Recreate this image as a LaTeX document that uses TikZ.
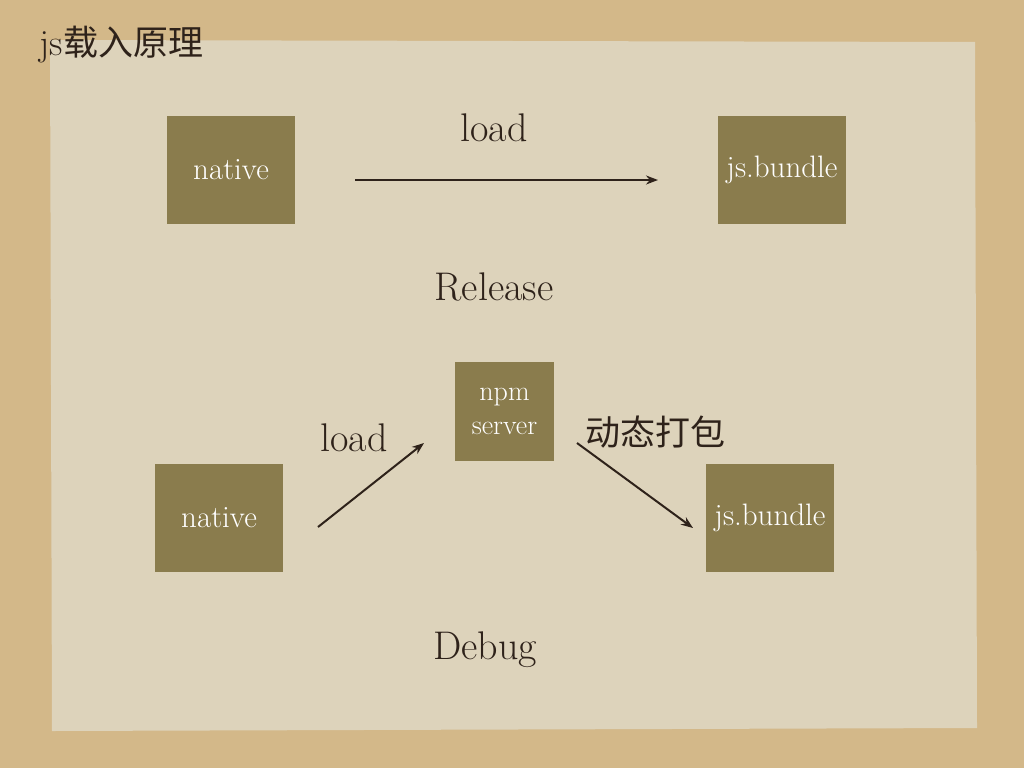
\documentclass[tikz,border=0pt]{standalone}
\usepackage{fontspec}
\newfontfamily\cjk{Noto Sans CJK SC}
\usetikzlibrary{arrows.meta}
\definecolor{outer}{HTML}{D3B889}
\definecolor{paper}{HTML}{DDD3BB}
\definecolor{olive}{HTML}{8A7C4D}
\definecolor{ink}{HTML}{2E221A}
\tikzset{
 box/.style={fill=olive,minimum width=128pt,minimum height=108pt,text=white,font=\fontsize{31}{33}\selectfont,inner sep=0pt,align=center},
 lbl/.style={text=ink,font=\fontsize{40}{42}\selectfont},
 conn/.style={draw=ink,line width=2pt,-{Stealth[length=12pt,width=9pt]}}
}
\begin{document}
\begin{tikzpicture}[x=1pt,y=-1pt]
\fill[outer] (0,0) rectangle (1024,768);
\useasboundingbox (0,0) rectangle (1024,768);
\fill[paper] (50,40) -- (975,42) -- (977,728) -- (52,731) -- cycle;
\node[anchor=west,text=ink,font=\fontsize{37}{39}\selectfont] (title) at (36,45) {js{\cjk\fontsize{35}{37}\selectfont 载入原理}};
\node[box] (n1) at (231,170) {native};
\node[box] (b1) at (782,170) {js.bundle};
\coordinate (a1s) at (355,180); \coordinate (a1e) at (658,180);
\draw[conn] (a1s) -- (a1e);
\node[lbl] (l1) at (494,128) {load};
\node[lbl] (rel) at (494,287) {Release};
\node[box,minimum width=99pt,minimum height=99pt,font=\fontsize{28}{34}\selectfont] (npm) at (504.5,411) {npm\\server};
\node[box] (n2) at (219,518) {native};
\node[box] (b2) at (770,518) {js.bundle};
\coordinate (a2s) at (318,527); \coordinate (a2e) at (424,443);
\draw[conn] (a2s) -- (a2e);
\coordinate (a3s) at (577,443); \coordinate (a3e) at (693,528);
\draw[conn] (a3s) -- (a3e);
\node[lbl] (l2) at (354,438) {load};
\node[text=ink,font=\cjk\fontsize{35}{37}\selectfont] (dt) at (655,432) {动态打包};
\node[lbl] (dbg) at (485,650) {Debug};
\end{tikzpicture}
\end{document}
